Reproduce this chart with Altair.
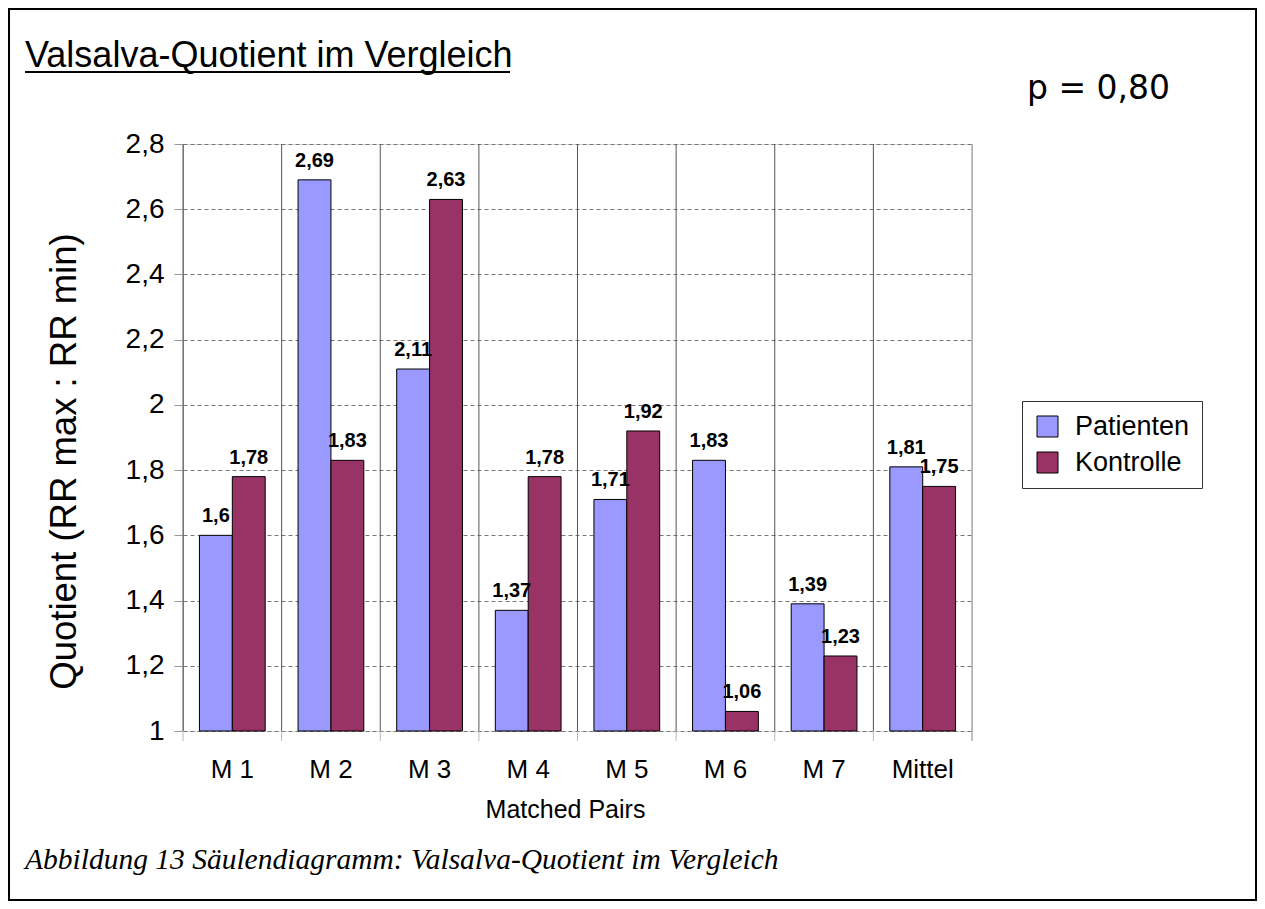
import altair as alt
import pandas as pd

# ---- data ----
categories = ["M 1", "M 2", "M 3", "M 4", "M 5", "M 6", "M 7", "Mittel"]
series = ["Patienten", "Kontrolle"]
patienten = [1.6, 2.69, 2.11, 1.37, 1.71, 1.83, 1.39, 1.81]
kontrolle = [1.78, 1.83, 2.63, 1.78, 1.92, 1.06, 1.23, 1.75]
y_ticks = [1.0, 1.2, 1.4, 1.6, 1.8, 2.0, 2.2, 2.4, 2.6, 2.8]
colors = ["#9999FF", "#993366"]

title_text = "Valsalva-Quotient im Vergleich"
p_text = "p = 0,80"
caption_text = "Abbildung 13 Säulendiagramm: Valsalva-Quotient im Vergleich"
y_title = "Quotient (RR max : RR min)"
x_title = "Matched Pairs"

rows = []
for c, p, k in zip(categories, patienten, kontrolle):
    for s, v in zip(series, [p, k]):
        rows.append({"cat": c, "grp": s, "v": v, "lbl": f"{v:g}".replace(".", ",")})
df = pd.DataFrame(rows)
cat_df = pd.DataFrame({"cat": categories})
last_df = pd.DataFrame({"cat": categories[-1:]})

W, H = 789, 587
FONT = "Liberation Sans"

x_scale = alt.Scale(domain=categories, paddingInner=0, paddingOuter=0)
x_axis = alt.Axis(
    title=x_title, labelAngle=0, labelFontSize=26, labelPadding=25, labelColor="black",
    ticks=False, tickSize=0, domain=False, grid=False,
    titleFontSize=25, titleFontWeight="normal", titleColor="black",
    titleX=382, titleY=86, titleAlign="center", titleBaseline="alphabetic",
)
y_scale = alt.Scale(domain=[1, 2.8], nice=False, zero=False)
y_axis = alt.Axis(
    values=y_ticks,
    labelExpr="replace(format(datum.value, '.2~f'), '.', ',')",
    labelFontSize=28, labelPadding=10, labelColor="black",
    tickSize=9, tickColor="#999999", domainColor="#999999",
    grid=True, gridColor="#777777", gridDash=[4, 3],
    title=y_title, titleFontSize=36.5, titleFontWeight="normal", titleColor="black",
    titleAngle=270, titleX=-108, titleY=317, titleAlign="center", titleBaseline="alphabetic",
)

color = alt.Color(
    "grp:N", sort=series,
    scale=alt.Scale(domain=series, range=colors),
    legend=alt.Legend(
        title=None, orient="none", legendX=839, legendY=257,
        fillColor="white", strokeColor="#333333", padding=12,
        symbolType="square", symbolSize=441, symbolStrokeColor="black", symbolStrokeWidth=1,
        symbolOpacity=1, labelFontSize=27, labelFont=FONT, labelColor="black",
        labelOffset=14, rowPadding=8,
    ),
)
xo = alt.XOffset("grp:N", sort=series, scale=alt.Scale(domain=series, paddingInner=0, paddingOuter=0.5))

base_x = alt.X("cat:N", sort=categories, scale=x_scale, axis=x_axis)

bars = alt.Chart(df).mark_bar(stroke="black", strokeWidth=1, opacity=1).encode(
    x=base_x,
    xOffset=xo,
    y=alt.Y("v:Q", scale=y_scale, axis=y_axis),
    y2=alt.datum(1),
    color=color,
)

labels = alt.Chart(df).mark_text(
    baseline="alphabetic", dy=-13, fontSize=20, fontWeight="bold", font=FONT, color="black"
).encode(
    x=alt.X("cat:N", sort=categories, scale=x_scale, axis=x_axis),
    xOffset=xo,
    y=alt.Y("v:Q", scale=y_scale, axis=y_axis),
    text="lbl:N",
)

sep = alt.Chart(cat_df).mark_rule(color="#555555", strokeWidth=1).encode(
    x=alt.X("cat:N", sort=categories, scale=x_scale, axis=x_axis, bandPosition=0),
    y=alt.value(0), y2=alt.value(H),
)
sep_tick = alt.Chart(cat_df).mark_rule(color="#bbbbbb", strokeWidth=1).encode(
    x=alt.X("cat:N", sort=categories, scale=x_scale, axis=x_axis, bandPosition=0),
    y=alt.value(H), y2=alt.value(H + 10),
)
sep_end = alt.Chart(last_df).mark_rule(color="#888888", strokeWidth=1).encode(
    x=alt.X("cat:N", sort=categories, scale=x_scale, axis=x_axis, bandPosition=1),
    y=alt.value(0), y2=alt.value(H + 10),
)

one = pd.DataFrame({"t": [title_text]})
title = alt.Chart(one).mark_text(
    align="left", baseline="alphabetic", fontSize=36, font=FONT, color="black"
).encode(x=alt.value(-158), y=alt.value(-77), text="t:N")
underline = alt.Chart(one).mark_rule(color="black", strokeWidth=2).encode(
    x=alt.value(-158), x2=alt.value(327), y=alt.value(-72)
)
ptxt = alt.Chart(pd.DataFrame({"t": [p_text]})).mark_text(
    align="left", baseline="alphabetic", fontSize=33, font="DejaVu Sans", color="black"
).encode(x=alt.value(844), y=alt.value(-45), text="t:N")
caption = alt.Chart(pd.DataFrame({"t": [caption_text]})).mark_text(
    align="left", baseline="alphabetic", fontSize=29.5, font="Liberation Serif",
    fontStyle="italic", color="black"
).encode(x=alt.value(-158), y=alt.value(725), text="t:N")
frame = alt.Chart(pd.DataFrame({"a": [0]})).mark_rect(
    fillOpacity=0, stroke="black", strokeWidth=2
).encode(x=alt.value(-174), x2=alt.value(1073), y=alt.value(-135), y2=alt.value(756))

chart = alt.layer(
    frame, sep, sep_tick, sep_end, bars, labels, title, underline, ptxt, caption
).resolve_scale(x="shared").properties(
    width=W, height=H,
    autosize=alt.AutoSizeParams(type="none"),
    padding={"left": 175, "top": 136, "right": 285, "bottom": 170},
    background="white",
).configure_view(strokeWidth=0).configure(font=FONT)

chart.save("out.html", embed_options={"renderer": "svg", "actions": False})
